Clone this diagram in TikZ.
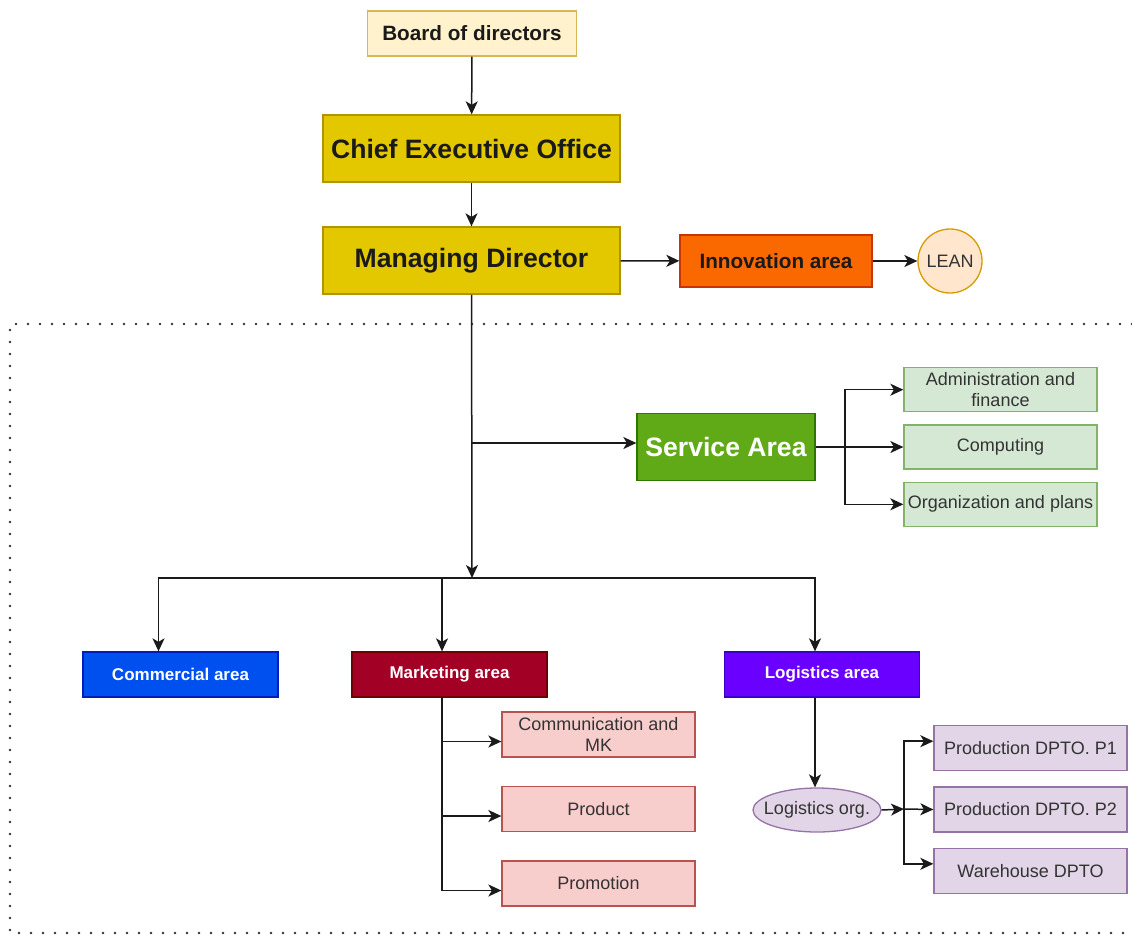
\documentclass[tikz,border=0pt]{standalone}
\usepackage{fontspec}
\setmainfont{Liberation Sans}
\usetikzlibrary{arrows.meta,positioning,shapes.geometric}
\definecolor{OrgCream}{HTML}{FFF2CC}
\definecolor{OrgCreamLine}{HTML}{D6B656}
\definecolor{OrgGold}{HTML}{E3C800}
\definecolor{OrgGoldLine}{HTML}{B09500}
\definecolor{OrgOrange}{HTML}{FA6800}
\definecolor{OrgOrangeLine}{HTML}{C73500}
\definecolor{OrgPeach}{HTML}{FFE6CC}
\definecolor{OrgPeachLine}{HTML}{D79B00}
\definecolor{OrgGreen}{HTML}{60A917}
\definecolor{OrgGreenLine}{HTML}{2D7600}
\definecolor{OrgMint}{HTML}{D5E8D4}
\definecolor{OrgMintLine}{HTML}{82B366}
\definecolor{OrgBlue}{HTML}{0050EF}
\definecolor{OrgBlueLine}{HTML}{001DBC}
\definecolor{OrgCrimson}{HTML}{A20025}
\definecolor{OrgCrimsonLine}{HTML}{6F0000}
\definecolor{OrgViolet}{HTML}{6A00FF}
\definecolor{OrgVioletLine}{HTML}{3700CC}
\definecolor{OrgRose}{HTML}{F8CECC}
\definecolor{OrgRoseLine}{HTML}{B85450}
\definecolor{OrgLilac}{HTML}{E1D5E7}
\definecolor{OrgLilacLine}{HTML}{9673A6}
\definecolor{OrgInk}{HTML}{1A1A1A}
\definecolor{OrgText}{HTML}{333333}
\tikzset{
  unitbox/.style={draw,line width=1.3pt,inner sep=0pt,align=center,text=OrgInk},
  headbox/.style={unitbox,fill=OrgGold,draw=OrgGoldLine,minimum width=297pt,minimum height=67pt,font=\fontsize{26.6}{30}\selectfont\bfseries},
  areabox/.style={unitbox,minimum width=195pt,minimum height=45pt,text=white,font=\fontsize{17}{20}\selectfont\bfseries},
  subbox/.style={unitbox,minimum width=193pt,minimum height=45pt,text=OrgText,font=\fontsize{18}{21}\selectfont},
  linkarrow/.style={-{Stealth[length=13pt,width=12pt,inset=3.5pt]},line width=1.5pt,draw=OrgInk},
  linkline/.style={line width=1.5pt,draw=OrgInk},
  zoneframe/.style={line width=2.8pt,draw=OrgText,dash pattern=on 0pt off 12pt,line cap=round}
}
\begin{document}
\begin{tikzpicture}[x=1pt,y=-1pt,node distance=12pt]
\useasboundingbox (0,0) rectangle (1132,935);
\draw[zoneframe] (1132,324) -- (10,324) -- (10,933) -- (1132,933);
% top of the chart
\node[unitbox,fill=OrgCream,draw=OrgCreamLine,minimum width=209pt,minimum height=45pt,font=\fontsize{20.7}{24}\selectfont\bfseries] (board) at (472,33.5) {Board of directors};
\node[headbox] (ceo) at (471.5,148.5) {Chief Executive Office};
\node[headbox] (md) at (471.5,260.5) {Managing Director};
\node[unitbox,fill=OrgOrange,draw=OrgOrangeLine,minimum width=192pt,minimum height=52pt,font=\fontsize{20.7}{24}\selectfont\bfseries] (inno) at (776,261) {Innovation area};
\node[circle,draw=OrgPeachLine,fill=OrgPeach,line width=1.3pt,minimum size=64pt,inner sep=0pt,text=OrgText,font=\fontsize{18}{21}\selectfont] (lean) at (950,261) {LEAN};
% service area
\node[unitbox,fill=OrgGreen,draw=OrgGreenLine,minimum width=178pt,minimum height=67pt,text=white,font=\fontsize{26.6}{30}\selectfont\bfseries] (svc) at (726,447) {Service Area};
\node[subbox,fill=OrgMint,draw=OrgMintLine,minimum height=44pt] (comp) at (1000.5,447) {Computing};
\node[subbox,fill=OrgMint,draw=OrgMintLine,minimum height=44pt,above=of comp] (admin) {Administration and\\finance};
\node[subbox,fill=OrgMint,draw=OrgMintLine,minimum height=44pt,below=of comp] (plans) {Organization and plans};
% areas
\node[areabox,fill=OrgBlue,draw=OrgBlueLine] (comm) at (180.5,674.5) {Commercial area};
\node[areabox,fill=OrgCrimson,draw=OrgCrimsonLine] (mkt) at (449.5,674.5) {Marketing area};
\node[areabox,fill=OrgViolet,draw=OrgVioletLine] (logi) at (822,674.5) {Logistics area};
\node[subbox,fill=OrgRose,draw=OrgRoseLine] (cmk) at (598.5,734.5) {Communication and\\MK};
\node[subbox,fill=OrgRose,draw=OrgRoseLine] (prod) at (598.5,809) {Product};
\node[subbox,fill=OrgRose,draw=OrgRoseLine] (promo) at (598.5,883.5) {Promotion};
\node[ellipse,draw=OrgLilacLine,fill=OrgLilac,line width=1.3pt,minimum width=128pt,minimum height=44pt,inner sep=0pt,text=OrgText,font=\fontsize{18}{21}\selectfont] (lorg) at (817,810) {\makebox[0pt]{Logistics org.}};
\node[subbox,fill=OrgLilac,draw=OrgLilacLine] (p2) at (1030.5,809.5) {Production DPTO. P2};
\node[subbox,fill=OrgLilac,draw=OrgLilacLine,above=15pt of p2] (p1) {Production DPTO. P1};
\node[subbox,fill=OrgLilac,draw=OrgLilacLine,below=15pt of p2] (wh) {Warehouse DPTO};
% connectors
\coordinate (svcfork) at (472,443);
\coordinate (hub) at (472,578);
\coordinate (svchub) at (845,447);
\coordinate (lgfork) at (904,809);
\draw[linkarrow] (board) -- (ceo);
\draw[linkarrow] (ceo) -- (md);
\draw[linkarrow] (md) -- (inno);
\draw[linkarrow] (inno) -- (lean);
\draw[linkarrow] (md) -- (hub);
\draw[linkarrow] (svcfork) -- (svcfork -| svc.west);
\draw[linkline] (svc.east) -- (svchub);
\draw[linkarrow] (svchub) |- (admin.west);
\draw[linkarrow] (svchub) -- (comp.west);
\draw[linkarrow] (svchub) |- (plans.west);
\draw[linkarrow] (hub) -| ([xshift=-22pt]comm.north);
\draw[linkarrow] (hub) -| ([xshift=-7.5pt]mkt.north);
\draw[linkarrow] (hub) -| ([xshift=-7pt]logi.north);
\draw[linkarrow] ([xshift=-7.5pt]mkt.south) |- ([yshift=-7pt]cmk.west);
\draw[linkarrow] ([xshift=-7.5pt]mkt.south) |- ([yshift=-7pt]prod.west);
\draw[linkarrow] ([xshift=-7.5pt]mkt.south) |- ([yshift=-7pt]promo.west);
\draw[linkarrow] ([xshift=-7pt]logi.south) -- ([xshift=-2pt]lorg.north);
\draw[linkarrow] (lorg.east) -- (lgfork);
\draw[linkarrow] (lgfork) |- ([yshift=7pt]p1.west);
\draw[linkarrow] (lgfork) -- (p2.west);
\draw[linkarrow] (lgfork) |- ([yshift=7pt]wh.west);
\end{tikzpicture}
\end{document}
